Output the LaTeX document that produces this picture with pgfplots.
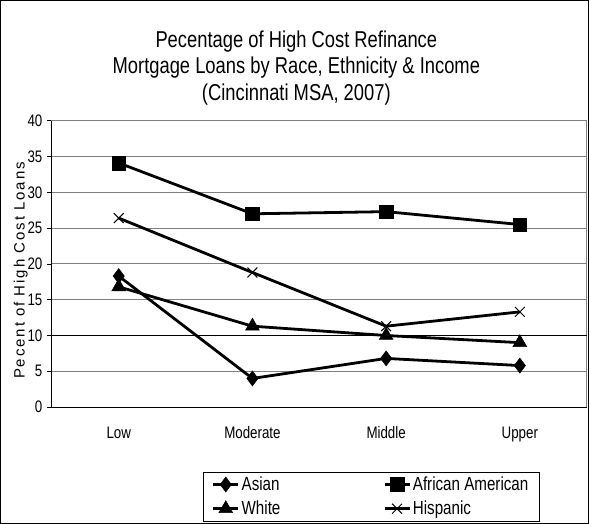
\documentclass[border=0pt]{standalone}
\usepackage{pgfplots}
\pgfplotsset{compat=1.18}
\usepackage{fontspec}
\setmainfont{Liberation Sans}[FakeStretch=0.8]
\newfontfamily\ylabfont{Liberation Sans}[LetterSpace=13]
\definecolor{gridgray}{RGB}{128,128,128}
\begin{document}
\begin{tikzpicture}
\begin{axis}[
  scale only axis,
  width=536bp, height=287bp,
  xmin=-0.5, xmax=3.5,
  ymin=0, ymax=40,
  xtick={0,1,2,3},
  xticklabels={Low,Moderate,Middle,Upper},
  xtick style={draw=none},
  extra x ticks={-0.5,0.5,1.5,2.5,3.5},
  extra x tick labels={},
  extra x tick style={grid=none, tick style={draw=black, line width=0.8bp}, major tick length=5bp, tick align=outside},
  xtick pos=bottom, ytick pos=left,
  ytick={0,5,...,40},
  ymajorgrids,
  major grid style={draw=gridgray, line width=1bp},
  ytick style={draw=black, line width=0.8bp},
  major tick length=5bp,
  tick align=outside,
  axis line style={draw=gridgray, line width=1bp},
  tick label style={font=\fontsize{16.7bp}{19bp}\selectfont},
  /pgf/number format/assume math mode=true,
  xticklabel style={yshift=-11bp},
  yticklabel style={xshift=-1bp},
  ylabel={\ylabfont\fontsize{15bp}{17bp}\selectfont Pecent of High Cost Loans},
  ylabel style={at={(axis description cs:-0.058,0.477)}, anchor=center},
  legend columns=2,
  legend cell align=left,
  legend style={at={(0.2817,-0.225)}, anchor=north west, draw=black, line width=0.8bp,
    font=\fontsize{19bp}{21bp}\selectfont, inner xsep=9bp, inner ysep=3bp,
    /tikz/every even column/.append style={column sep=101bp}, row sep=5bp},
  legend image code/.code={\draw[mark repeat=2, mark phase=2] plot coordinates {(0bp,0bp) (12.5bp,0bp) (25bp,0bp)};},
  clip=false,
]
\coordinate (O) at (rel axis cs:0,0);
\draw[black, line width=1bp] (axis cs:-0.5,10) -- (axis cs:3.5,10);
\draw[black, line width=1bp] (rel axis cs:0,1) -- (rel axis cs:0,0) -- (rel axis cs:1,0);
\addplot[black, line width=2.8bp, mark=diamond*, mark size=7.5bp, mark options={solid, fill=black, line width=0.5bp}] coordinates {(0,18.3) (1,4.0) (2,6.8) (3,5.8)};
\addlegendentry{Asian}
\addplot[black, line width=2.8bp, mark=square*, mark size=6.8bp, mark options={solid, fill=black, line width=0.5bp}] coordinates {(0,34.1) (1,27.0) (2,27.3) (3,25.5)};
\addlegendentry{African American}
\addplot[black, line width=2.8bp, mark=triangle*, mark size=8bp, mark options={solid, fill=black, line width=0.5bp}] coordinates {(0,16.8) (1,11.3) (2,10.0) (3,9.0)};
\addlegendentry{White}
\addplot[black, line width=2.8bp, mark=x, mark size=7bp, mark options={solid, line width=1bp}] coordinates {(0,26.4) (1,18.8) (2,11.3) (3,13.3)};
\addlegendentry{Hispanic}
\end{axis}
\node[align=center, font=\fontsize{23bp}{26.5bp}\selectfont, anchor=center] at ([shift={(245bp,340bp)}]O)
  {Pecentage of High Cost Refinance\\Mortgage Loans by Race, Ethnicity \& Income\\(Cincinnati MSA, 2007)};
\draw[black, line width=1bp] ([shift={(-51.5bp,-116.5bp)}]O) rectangle ([shift={(537.5bp,407.5bp)}]O);
\end{tikzpicture}
\end{document}
